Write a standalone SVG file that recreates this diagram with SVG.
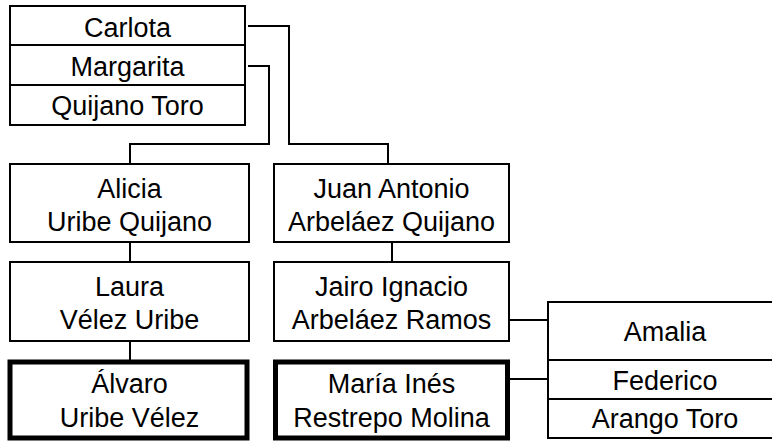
<svg xmlns="http://www.w3.org/2000/svg" width="772" height="442" viewBox="0 0 772 442">
<style>
.b{fill:#fff;stroke:#000;stroke-width:2}
.t{fill:#fff;stroke:#000;stroke-width:5}
.l{fill:none;stroke:#000;stroke-width:2}
text{font-family:"Liberation Sans",Arial,sans-serif;font-size:27px;text-anchor:middle;fill:#000}
</style>
<rect width="772" height="442" fill="#fff"/>
<g id="connectors">
<path class="l" d="M248,26 H289 V144 H388 V164"/>
<path class="l" d="M248,66 H269 V144 H130 V164"/>
<path class="l" d="M130,242 V262"/>
<path class="l" d="M130,341 V360"/>
<path class="l" d="M392,242 V262"/>
<path class="l" d="M509,320 H548"/>
<path class="l" d="M509,379 H548"/>
</g>
<g id="quijano-toro">
<rect class="b" x="10" y="6" width="235" height="119"/>
<line class="l" x1="10" y1="45" x2="245" y2="45"/>
<line class="l" x1="10" y1="85" x2="245" y2="85"/>
<text x="127.5" y="36.5">Carlota</text>
<text x="127.5" y="75.5">Margarita</text>
<text x="127.5" y="115">Quijano Toro</text>
</g>
<g id="alicia">
<rect class="b" x="10" y="164" width="239" height="78"/>
<text x="129.5" y="198">Alicia</text>
<text x="129.5" y="231">Uribe Quijano</text>
</g>
<g id="laura">
<rect class="b" x="10" y="262" width="239" height="79"/>
<text x="129.5" y="296">Laura</text>
<text x="129.5" y="329">Vélez Uribe</text>
</g>
<g id="alvaro">
<rect class="t" x="10" y="362" width="237" height="76"/>
<text x="129.5" y="393">Álvaro</text>
<text x="129.5" y="427">Uribe Vélez</text>
</g>
<g id="juan-antonio">
<rect class="b" x="274" y="164" width="235" height="78"/>
<text x="391.5" y="198">Juan Antonio</text>
<text x="391.5" y="231">Arbeláez Quijano</text>
</g>
<g id="jairo-ignacio">
<rect class="b" x="274" y="262" width="235" height="79"/>
<text x="391.5" y="296">Jairo Ignacio</text>
<text x="391.5" y="329">Arbeláez Ramos</text>
</g>
<g id="maria-ines">
<rect class="t" x="275.5" y="362" width="232" height="76"/>
<text x="391.5" y="393">María Inés</text>
<text x="391.5" y="427">Restrepo Molina</text>
</g>
<g id="arango-toro">
<rect class="b" x="548" y="302" width="235" height="136"/>
<line class="l" x1="548" y1="360" x2="783" y2="360"/>
<line class="l" x1="548" y1="399" x2="783" y2="399"/>
<text x="665" y="341">Amalia</text>
<text x="665" y="390">Federico</text>
<text x="665" y="428">Arango Toro</text>
</g>
</svg>
